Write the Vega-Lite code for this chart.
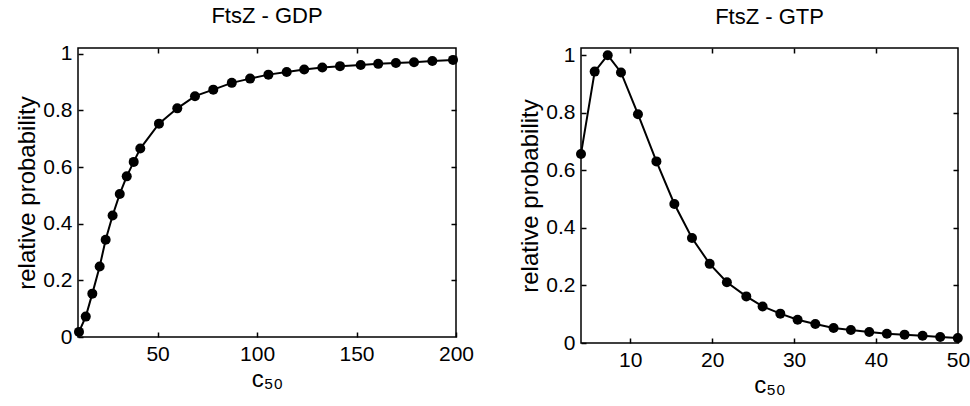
{
  "$schema": "https://vega.github.io/schema/vega-lite/v6.json",
  "background": "white",
  "padding": {"left": 15, "top": 3, "right": 5, "bottom": 5},
  "bounds": "flush",
  "spacing": 125,
  "config": {
    "font": "Liberation Sans",
    "view": {"stroke": "black", "strokeWidth": 1.5},
    "axis": {
      "grid": false, "domain": false,
      "labelFontSize": 21, "labelColor": "black", "labelFont": "Liberation Sans",
      "tickColor": "black", "tickWidth": 1.5, "tickSize": -5, "labelPadding": 11,
      "titleFontSize": 24, "titleFontWeight": "normal", "titleColor": "black", "titleFont": "Liberation Sans",
      "labelFlush": false, "labelOverlap": false
    },
    "title": {"fontSize": 22, "fontWeight": "normal", "color": "black", "font": "Liberation Sans", "offset": 15}
  },
  "datasets": {
    "gdp": [
      {"c50": 10.5, "p": 0.018}, {"c50": 13.9, "p": 0.072}, {"c50": 17.2, "p": 0.153},
      {"c50": 20.9, "p": 0.249}, {"c50": 23.9, "p": 0.343}, {"c50": 27.4, "p": 0.429},
      {"c50": 31.0, "p": 0.505}, {"c50": 34.5, "p": 0.567}, {"c50": 38.0, "p": 0.618},
      {"c50": 41.3, "p": 0.665}, {"c50": 50.7, "p": 0.753}, {"c50": 59.9, "p": 0.807},
      {"c50": 68.8, "p": 0.850}, {"c50": 78.0, "p": 0.873}, {"c50": 87.3, "p": 0.897},
      {"c50": 96.5, "p": 0.912}, {"c50": 105.7, "p": 0.926}, {"c50": 114.9, "p": 0.935},
      {"c50": 123.7, "p": 0.944}, {"c50": 132.8, "p": 0.951}, {"c50": 141.7, "p": 0.956},
      {"c50": 152.1, "p": 0.960}, {"c50": 160.9, "p": 0.964}, {"c50": 169.8, "p": 0.967},
      {"c50": 178.9, "p": 0.970}, {"c50": 188.1, "p": 0.974}, {"c50": 198.5, "p": 0.978}
    ],
    "gtp": [
      {"c50": 4.0, "p": 0.657}, {"c50": 5.67, "p": 0.943}, {"c50": 7.26, "p": 1.0},
      {"c50": 8.88, "p": 0.940}, {"c50": 10.95, "p": 0.795}, {"c50": 13.2, "p": 0.631},
      {"c50": 15.39, "p": 0.483}, {"c50": 17.54, "p": 0.365}, {"c50": 19.7, "p": 0.275},
      {"c50": 21.8, "p": 0.211}, {"c50": 24.17, "p": 0.162}, {"c50": 26.16, "p": 0.127},
      {"c50": 28.32, "p": 0.102}, {"c50": 30.43, "p": 0.081}, {"c50": 32.59, "p": 0.066},
      {"c50": 34.82, "p": 0.052}, {"c50": 36.93, "p": 0.045}, {"c50": 39.17, "p": 0.038},
      {"c50": 41.32, "p": 0.032}, {"c50": 43.48, "p": 0.029}, {"c50": 45.68, "p": 0.025},
      {"c50": 47.83, "p": 0.021}, {"c50": 49.98, "p": 0.017}
    ]
  },
  "hconcat": [
    {
      "title": "FtsZ - GDP",
      "width": 378, "height": 289,
      "data": {"name": "gdp"},
      "layer": [
        {
          "mark": {"type": "line", "color": "black", "strokeWidth": 2, "point": {"filled": true, "color": "black", "size": 100, "opacity": 1}},
          "encoding": {
            "x": {"field": "c50", "type": "quantitative", "scale": {"domain": [10, 200], "nice": false, "zero": false},
                  "axis": {"orient": "bottom", "values": [50, 100, 150, 200], "title": "c₅₀", "titlePadding": 3}},
            "y": {"field": "p", "type": "quantitative", "scale": {"domain": [0, 1.02], "nice": false},
                  "axis": {"orient": "left", "values": [0, 0.2, 0.4, 0.6, 0.8, 1], "format": "~g", "title": "relative probability", "titlePadding": 3}}
          }
        },
        {
          "mark": {"type": "point", "opacity": 0},
          "encoding": {
            "x": {"field": "c50", "type": "quantitative", "axis": {"orient": "top", "values": [50, 100, 150], "labels": false, "title": null}},
            "y": {"field": "p", "type": "quantitative", "axis": {"orient": "right", "values": [0.2, 0.4, 0.6, 0.8], "labels": false, "title": null}}
          }
        }
      ],
      "resolve": {"axis": {"x": "independent", "y": "independent"}}
    },
    {
      "title": "FtsZ - GTP",
      "width": 377, "height": 295,
      "data": {"name": "gtp"},
      "layer": [
        {
          "mark": {"type": "line", "color": "black", "strokeWidth": 2, "point": {"filled": true, "color": "black", "size": 100, "opacity": 1}},
          "encoding": {
            "x": {"field": "c50", "type": "quantitative", "scale": {"domain": [4, 50], "nice": false, "zero": false},
                  "axis": {"orient": "bottom", "values": [10, 20, 30, 40, 50], "title": "c₅₀", "titlePadding": 3}},
            "y": {"field": "p", "type": "quantitative", "scale": {"domain": [0, 1.025], "nice": false},
                  "axis": {"orient": "left", "values": [0, 0.2, 0.4, 0.6, 0.8, 1], "format": "~g", "title": "relative probability", "titlePadding": 3}}
          }
        },
        {
          "mark": {"type": "point", "opacity": 0},
          "encoding": {
            "x": {"field": "c50", "type": "quantitative", "axis": {"orient": "top", "values": [10, 20, 30, 40], "labels": false, "title": null}},
            "y": {"field": "p", "type": "quantitative", "axis": {"orient": "right", "values": [0.2, 0.4, 0.6, 0.8], "labels": false, "title": null}}
          }
        }
      ],
      "resolve": {"axis": {"x": "independent", "y": "independent"}}
    }
  ]
}
